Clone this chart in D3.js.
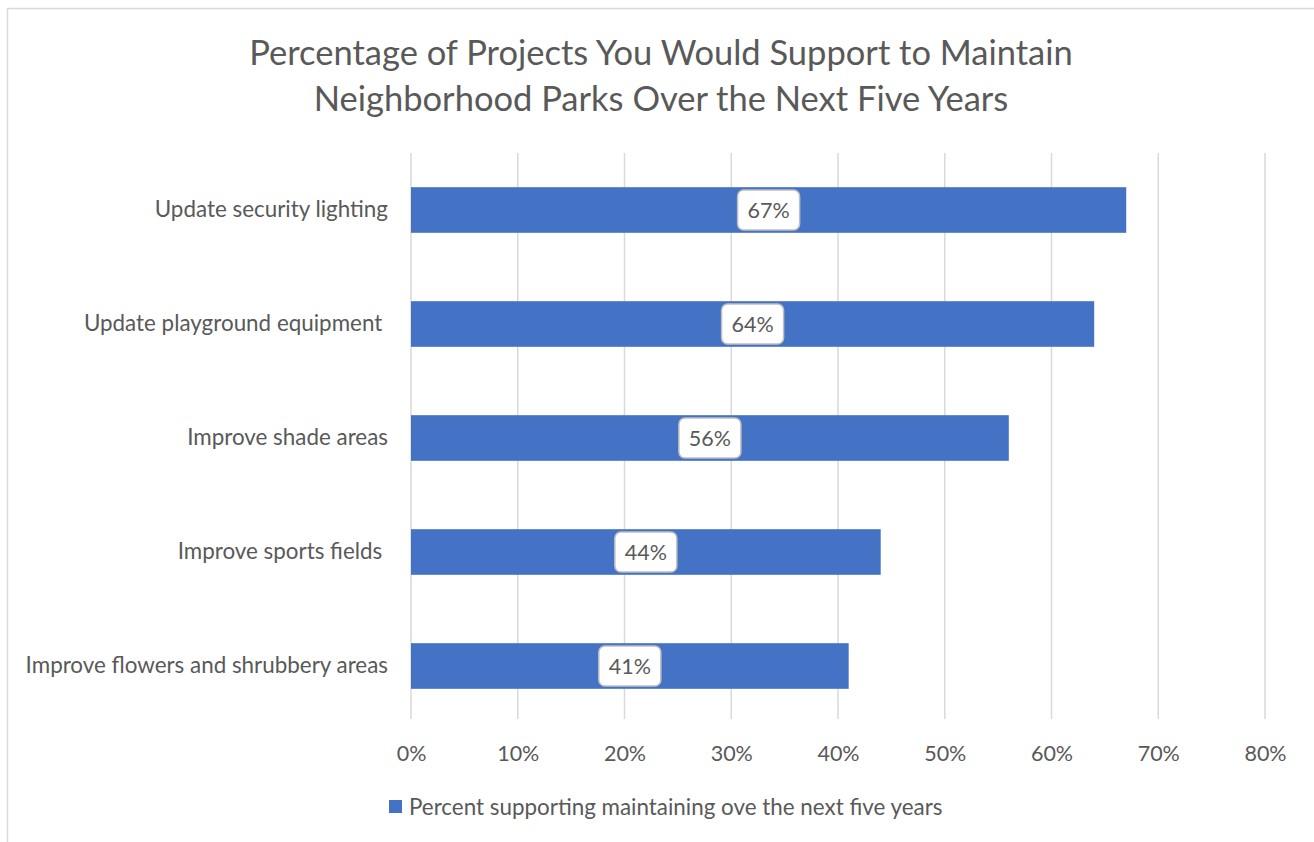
<!DOCTYPE html>
<html>
<head>
<meta charset="utf-8">
<script src="https://cdn.jsdelivr.net/npm/d3@7"></script>
<style>
  html, body { margin: 0; padding: 0; background: #fff; }
  svg text { font-family: Lato, "Open Sans", sans-serif; fill: #595959; white-space: pre; }
</style>
</head>
<body>
<svg id="chart" width="1314" height="842"></svg>
<script>
const categories = [
  "Update security lighting",
  "Update playground equipment ",
  "Improve shade areas",
  "Improve sports fields ",
  "Improve flowers and shrubbery areas"
];
const values = [67, 64, 56, 44, 41];
const tickValues = [0, 10, 20, 30, 40, 50, 60, 70, 80];
const titleLines = [
  "Percentage of Projects You Would Support to Maintain",
  "Neighborhood Parks Over the Next Five Years"
];
const seriesName = "Percent supporting maintaining ove the next five years";

const svg = d3.select("#chart");
const barColor = "#4472c4";
const gridColor = "#d9d9d9";
const fontStack = "Lato, 'Open Sans', sans-serif";

// chart frame
svg.append("rect")
  .attr("x", 7.5).attr("y", 8.5)
  .attr("width", 1400).attr("height", 1000)
  .attr("fill", "#fff").attr("stroke", gridColor).attr("stroke-width", 1.5);

// title
svg.append("g").selectAll("text").data(titleLines).join("text")
  .attr("x", 661).attr("y", (d, i) => 65 + i * 46)
  .attr("text-anchor", "middle")
  .attr("font-size", 34.5)
  .text(d => d);

const x = d3.scaleLinear().domain([0, 80]).range([411, 1265]);
const y = d3.scaleBand().domain(categories).range([153, 723]).paddingInner(0.6).paddingOuter(0.3);

// vertical gridlines
svg.append("g").selectAll("line").data(tickValues).join("line")
  .attr("x1", d => x(d)).attr("x2", d => x(d))
  .attr("y1", 153).attr("y2", 719)
  .attr("stroke", gridColor).attr("stroke-width", 1.5);

// x axis tick labels
const xAxis = d3.axisBottom(x).tickValues(tickValues).tickFormat(d => d + "%").tickSize(0).tickPadding(0);
const gx = svg.append("g").attr("transform", "translate(0,746)").call(xAxis);
gx.select(".domain").remove();
gx.selectAll("text").attr("font-size", 21.5).attr("dy", "0.7em").style("font-family", fontStack).attr("fill", "#595959");

// category labels
const yAxis = d3.axisLeft(y).tickSize(0).tickPadding(0);
const gy = svg.append("g").attr("transform", "translate(388,0)").call(yAxis);
gy.select(".domain").remove();
gy.selectAll("text").attr("font-size", 22.4).style("font-family", fontStack).attr("fill", "#595959");

// bars
const rows = categories.map((c, i) => ({ c, v: values[i] }));
svg.append("g").selectAll("rect").data(rows).join("rect")
  .attr("x", x(0)).attr("y", d => y(d.c))
  .attr("width", d => x(d.v) - x(0)).attr("height", y.bandwidth())
  .attr("fill", barColor);

// value callouts
const lbl = svg.append("g").selectAll("g").data(rows).join("g")
  .attr("transform", d => `translate(${(x(0) + x(d.v)) / 2},${y(d.c) + y.bandwidth() / 2})`);
lbl.append("rect")
  .attr("x", -31).attr("y", -20).attr("width", 62).attr("height", 40)
  .attr("rx", 6).attr("fill", "#fff").attr("stroke", "#bfbfbf").attr("stroke-width", 1.5);
lbl.append("text")
  .attr("text-anchor", "middle").attr("dy", "0.36em")
  .attr("font-size", 21.5)
  .text(d => d.v + "%");

// legend
const leg = svg.append("g").attr("transform", "translate(389,800)");
leg.append("rect").attr("width", 13).attr("height", 13).attr("fill", barColor);
leg.append("text").attr("x", 20).attr("y", 7).attr("dy", "0.36em").attr("font-size", 22.4).text(seriesName);
</script>
</body>
</html>
